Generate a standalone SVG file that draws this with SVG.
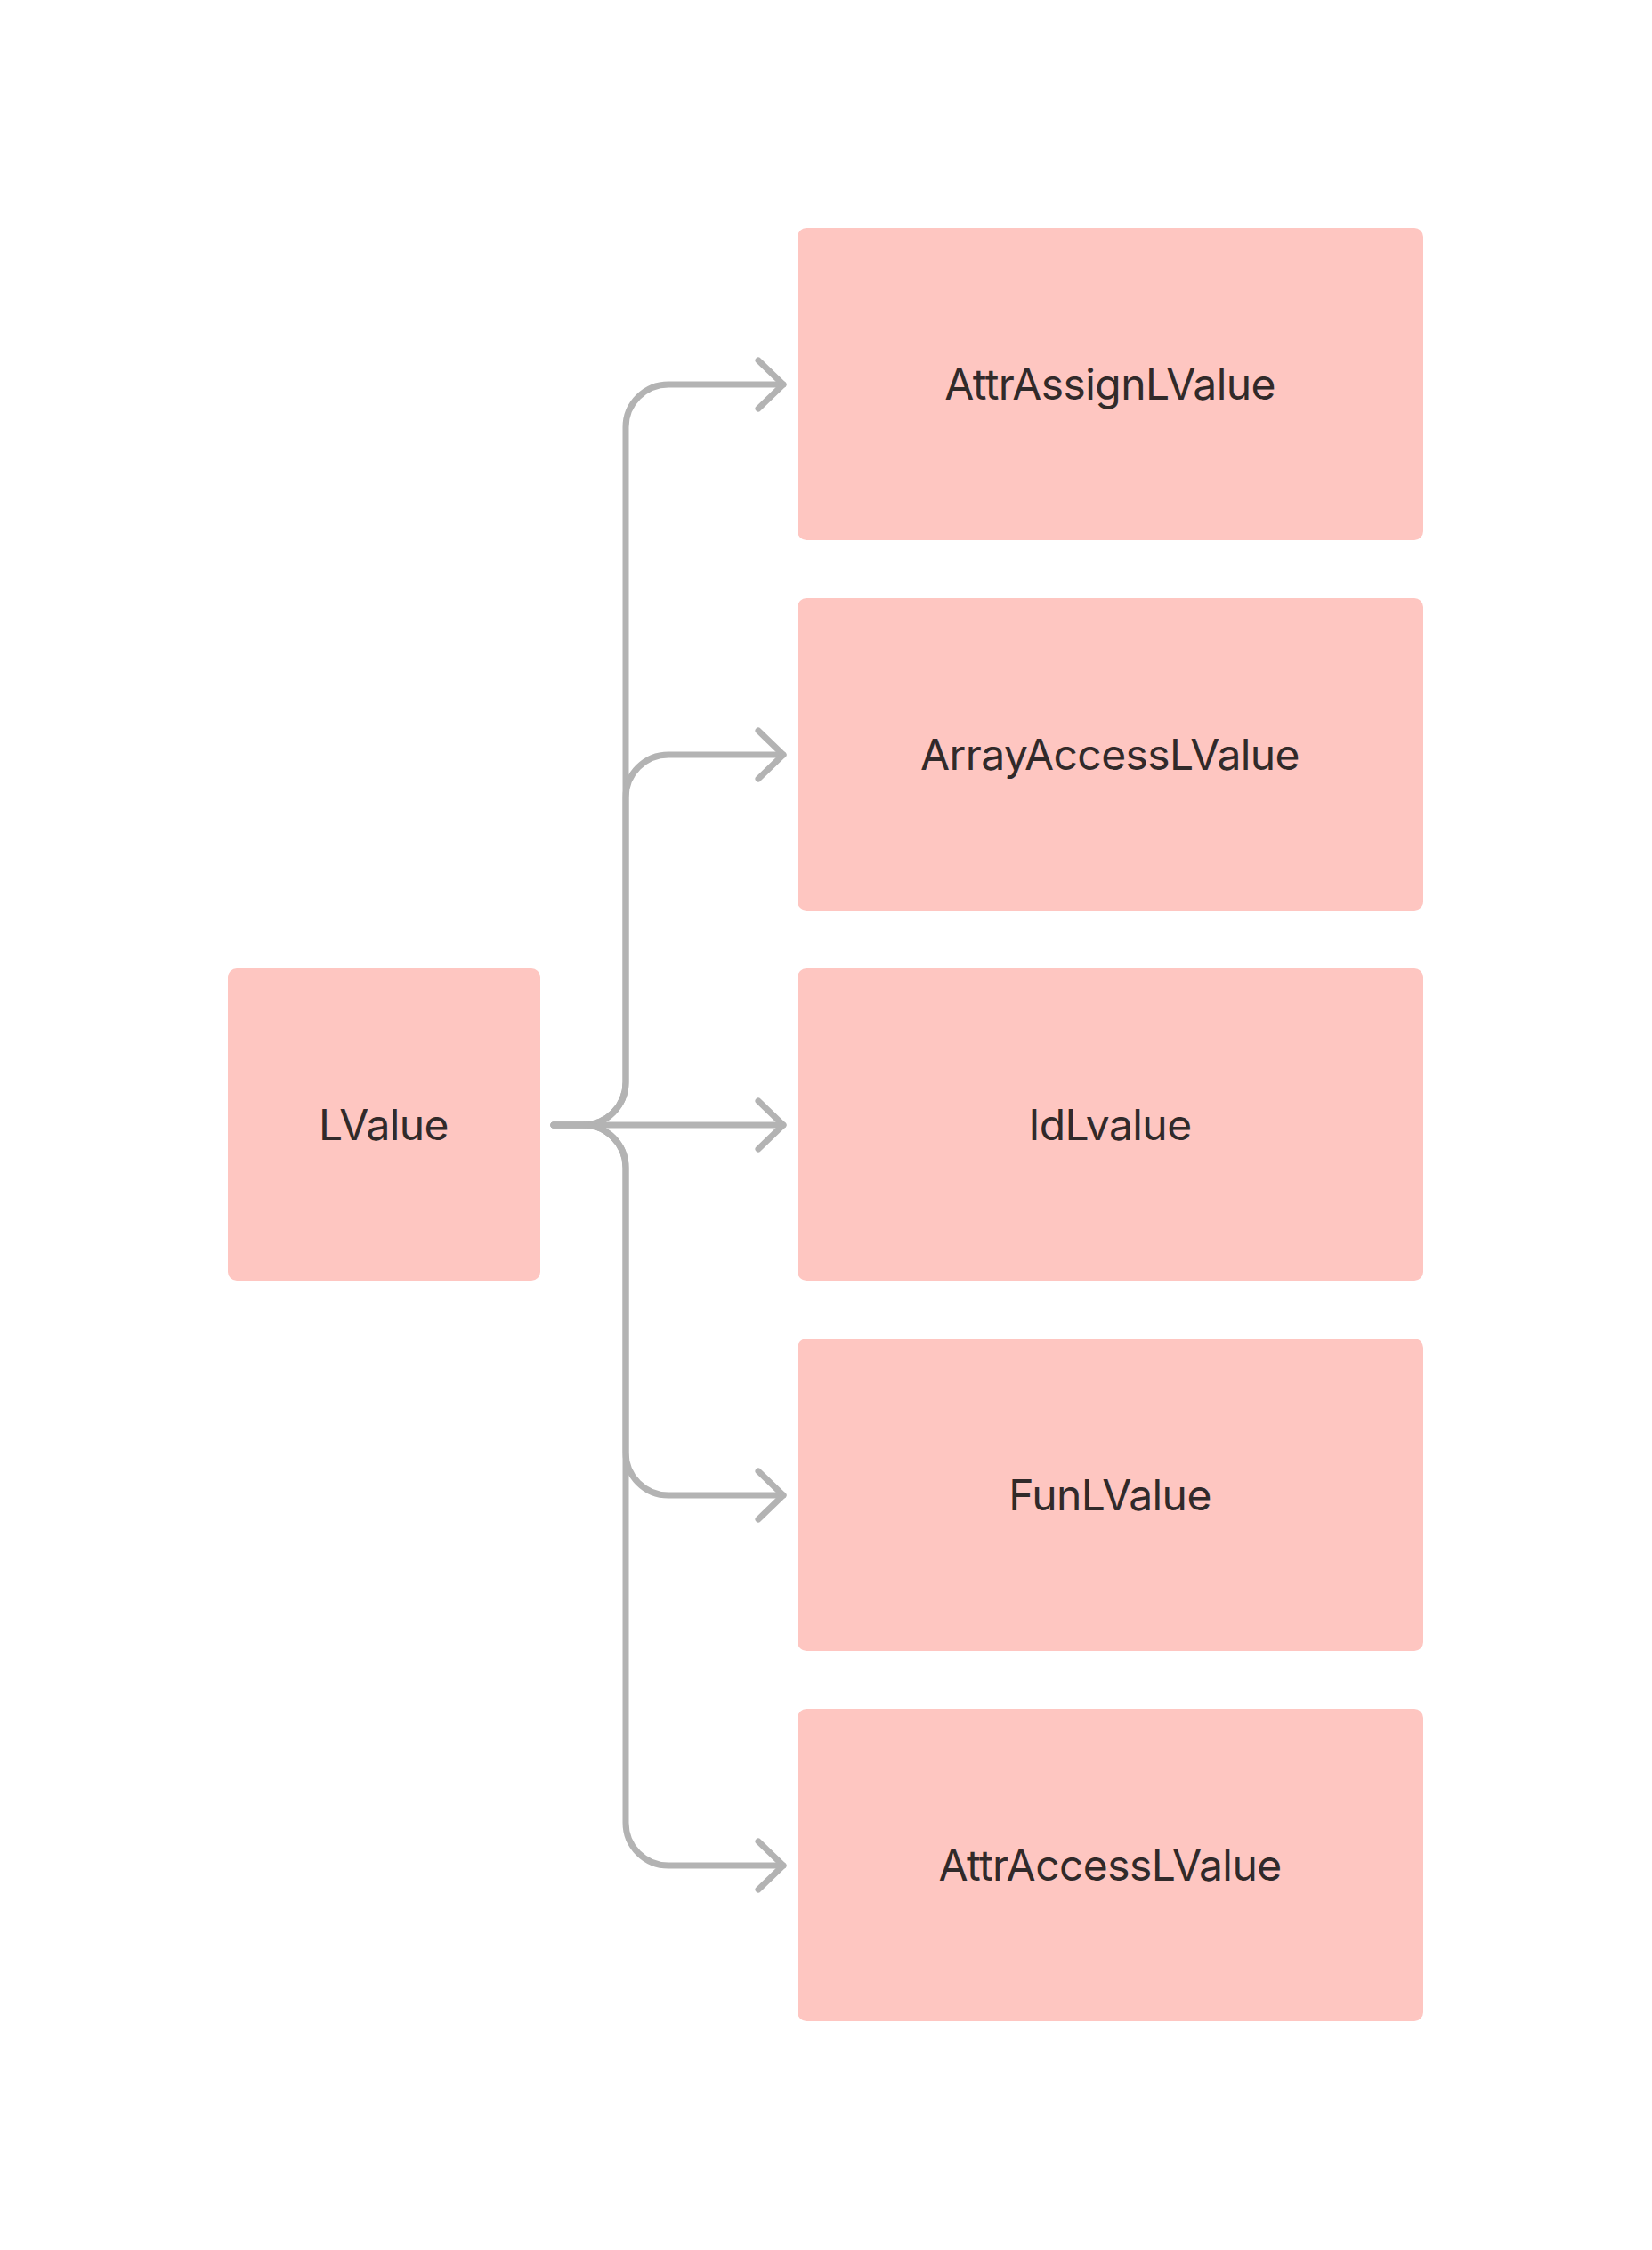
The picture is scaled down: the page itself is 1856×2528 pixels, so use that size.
<svg xmlns="http://www.w3.org/2000/svg" width="1856" height="2528" viewBox="0 0 1856 2528">
<style>
.node rect{fill:#fec6c1;}
.node text{font-family:Inter,"Liberation Sans",sans-serif;font-size:48px;letter-spacing:-0.6px;fill:#312a2a;text-anchor:middle;}
.edge{fill:none;stroke:#b3b3b3;stroke-width:7;stroke-linecap:round;stroke-linejoin:round;}
</style>
<defs>
<marker id="arrow" viewBox="-32 -32 40 64" markerWidth="40" markerHeight="64" refX="0" refY="0" orient="auto" markerUnits="userSpaceOnUse">
<path d="M-28 -27 L0 0 L-28 27" fill="none" stroke="#b3b3b3" stroke-width="7" stroke-linecap="round" stroke-linejoin="round"/>
</marker>
</defs>
<rect width="1856" height="2528" fill="#ffffff"/>
<g id="connectors">
<path class="edge" marker-end="url(#arrow)" d="M622 1264 H655 A48 48 0 0 0 703 1216 V480 A48 48 0 0 1 751 432 H880"/>
<path class="edge" marker-end="url(#arrow)" d="M622 1264 H655 A48 48 0 0 0 703 1216 V896 A48 48 0 0 1 751 848 H880"/>
<path class="edge" marker-end="url(#arrow)" d="M622 1264 H880"/>
<path class="edge" marker-end="url(#arrow)" d="M622 1264 H655 A48 48 0 0 1 703 1312 V1632 A48 48 0 0 0 751 1680 H880"/>
<path class="edge" marker-end="url(#arrow)" d="M622 1264 H655 A48 48 0 0 1 703 1312 V2048 A48 48 0 0 0 751 2096 H880"/>
</g>
<g id="LValue" class="node"><rect x="256" y="1088" width="351" height="351" rx="10"/><text x="431" y="1281">LValue</text></g>
<g id="AttrAssignLValue" class="node"><rect x="896" y="256" width="703" height="351" rx="10"/><text x="1247" y="449">AttrAssignLValue</text></g>
<g id="ArrayAccessLValue" class="node"><rect x="896" y="672" width="703" height="351" rx="10"/><text x="1247" y="865">ArrayAccessLValue</text></g>
<g id="IdLvalue" class="node"><rect x="896" y="1088" width="703" height="351" rx="10"/><text x="1247" y="1281">IdLvalue</text></g>
<g id="FunLValue" class="node"><rect x="896" y="1504" width="703" height="351" rx="10"/><text x="1247" y="1697">FunLValue</text></g>
<g id="AttrAccessLValue" class="node"><rect x="896" y="1920" width="703" height="351" rx="10"/><text x="1247" y="2113">AttrAccessLValue</text></g>
</svg>
